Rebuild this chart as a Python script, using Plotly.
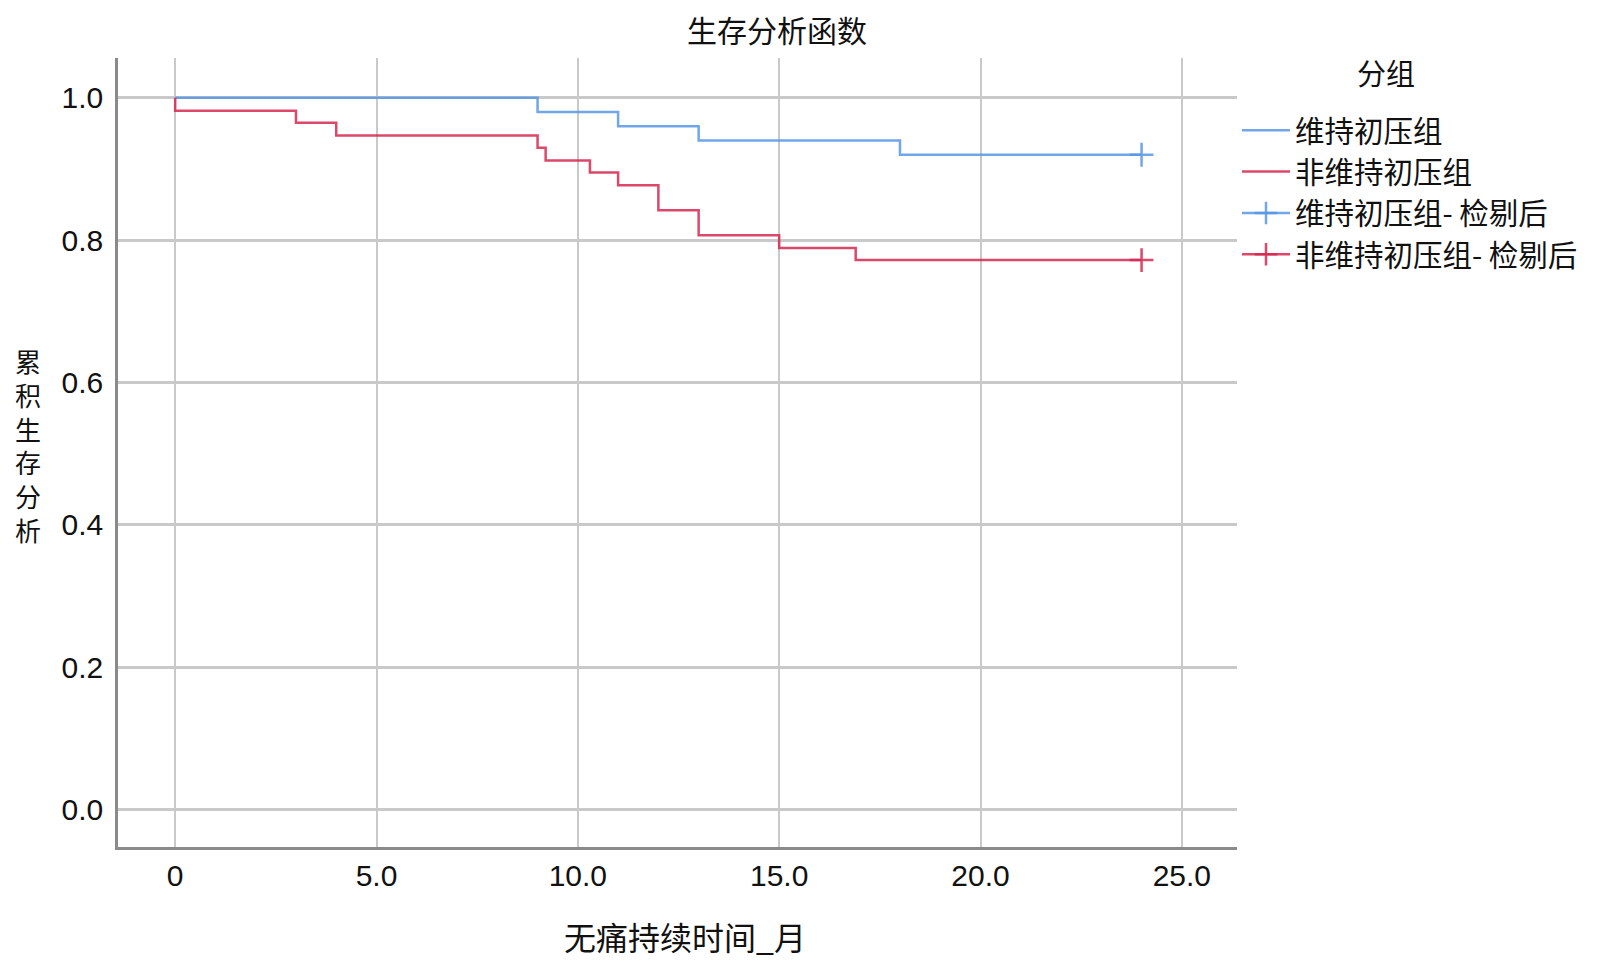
import plotly.graph_objects as go

# Kaplan-Meier step values
groups = ["维持初压组", "非维持初压组"]

keep_time = [0, 9.0, 11.0, 13.0, 18.0, 24.0]
keep_surv = [1.0, 0.98, 0.96, 0.94, 0.92, 0.92]

other_time = [0, 0, 3.0, 4.0, 9.0, 9.2, 10.3, 11.0, 12.0, 13.0, 15.0, 16.9, 24.0]
other_surv = [1.0, 0.982, 0.965, 0.947, 0.930, 0.912, 0.895, 0.877, 0.842, 0.807, 0.789, 0.772, 0.772]

# censored observations
keep_cens_time = [24.0]
keep_cens_surv = [0.92]
other_cens_time = [24.0]
other_cens_surv = [0.772]

x_ticks = [0, 5, 10, 15, 20, 25]
x_tick_text = ["0", "5.0", "10.0", "15.0", "20.0", "25.0"]
y_ticks = [0, 0.2, 0.4, 0.6, 0.8, 1.0]

line_colors = ["rgba(88,150,228,0.85)", "rgba(214,40,80,0.85)"]
cens_colors = ["#3f7fd6", "#cf1236"]

LATIN = "Liberation Sans, Arial, Noto Sans CJK SC"
CJK = "Noto Sans CJK SC, Liberation Sans"

# page body has an 8px margin, so the figure is a bit smaller than the window
W, H = 1583, 951

fig = go.Figure()

steps = [(keep_time, keep_surv), (other_time, other_surv)]
for name, (t, s), c in zip(groups, steps, line_colors):
    fig.add_trace(go.Scatter(
        x=t, y=s, name=name, mode="lines",
        line=dict(color=c, width=2.5, shape="hv"),
    ))

cens = [(keep_cens_time, keep_cens_surv), (other_cens_time, other_cens_surv)]
for name, (t, s), lc, mc in zip(groups, cens, line_colors, cens_colors):
    fig.add_trace(go.Scatter(
        x=t, y=s, name=name + "- 检剔后", mode="lines+markers",
        line=dict(color=lc, width=2.5),
        marker=dict(symbol="cross-thin-open", size=17,
                    line=dict(color=mc, width=2.5)),
    ))

fig.update_layout(
    width=W, height=H,
    margin=dict(l=110, r=354, t=50, b=111.5, autoexpand=False),
    plot_bgcolor="white", paper_bgcolor="white",
    font=dict(family=LATIN, color="#111111"),
    title=dict(text="生存分析函数", x=769 / W, xanchor="center",
               y=1 - 23 / H, yanchor="middle",
               font=dict(family=LATIN, size=30, color="#111111")),
    legend=dict(
        font=dict(family=CJK, size=29.5, color="#111111"),
        x=1.0, xanchor="left", y=0.941, yanchor="top",
        itemwidth=48,
        bgcolor="rgba(0,0,0,0)", borderwidth=0,
    ),
    showlegend=True,
)

fig.update_xaxes(
    range=[-1.42, 26.37], tickvals=x_ticks, ticktext=x_tick_text,
    showgrid=True, gridcolor="#c9c9c9", gridwidth=1.5, zeroline=False,
    showline=True, linecolor="#8a8a8a", linewidth=2.5,
    ticks="", ticklabelstandoff=0,
    tickfont=dict(family=LATIN, size=30, color="#111111"),
)
fig.update_yaxes(
    range=[-0.053, 1.056], tickvals=y_ticks, tickformat=".1f",
    showgrid=True, gridcolor="#c9c9c9", gridwidth=2.5, zeroline=False,
    showline=True, linecolor="#8a8a8a", linewidth=2.5,
    ticks="", ticklabelstandoff=6,
    tickfont=dict(family=LATIN, size=30, color="#111111"),
)

# legend heading
fig.add_annotation(
    text="分组", xref="paper", yref="paper", x=1.133, y=0.9827,
    xanchor="center", yanchor="middle", showarrow=False,
    font=dict(family=CJK, size=29, color="#111111"),
)

# x-axis title, sits a little right of the plot centre
fig.add_annotation(
    text="无痛持续时间_月", xref="paper", yref="paper", x=0.5067, y=-0.113,
    xanchor="center", yanchor="middle", showarrow=False,
    font=dict(family=CJK, size=32, color="#111111"),
)

# stacked vertical y-axis title
fig.add_annotation(
    text="<br>".join("累积生存分析"), xref="paper", yref="paper",
    x=-0.0804, y=0.51, xanchor="center", yanchor="middle",
    showarrow=False, align="center",
    font=dict(family=CJK, size=26, color="#111111"),
)

fig.write_html("out.html")
